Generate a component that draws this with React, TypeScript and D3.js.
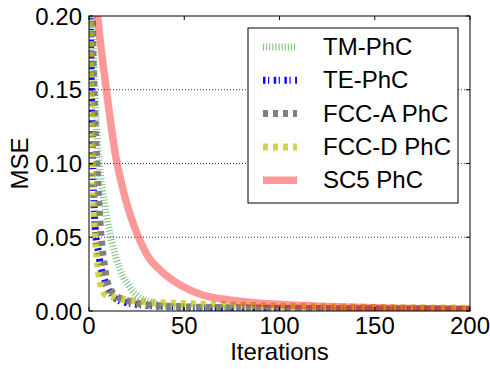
import React from "react";
import * as d3 from "d3";

const iterations = [0, 1, 2, 3, 4, 5, 6, 7, 8, 9, 10, 12, 14, 16, 18, 20, 22, 25, 28, 32, 36, 40, 45, 50, 60, 70, 80, 90, 100, 120, 140, 160, 180, 200];

const tmPhC = [0.3, 0.24, 0.19, 0.15, 0.125, 0.105, 0.092, 0.082, 0.074, 0.066, 0.059, 0.047, 0.037, 0.029, 0.023, 0.019, 0.015, 0.011, 0.008, 0.0058, 0.0045, 0.0035, 0.0028, 0.0022, 0.0016, 0.0012, 0.001, 0.0008, 0.0007, 0.0005, 0.0004, 0.0003, 0.00025, 0.0002];
const tePhC = [0.26, 0.17, 0.1, 0.062, 0.047, 0.04, 0.031, 0.026, 0.022, 0.018, 0.015, 0.011, 0.0085, 0.0068, 0.006, 0.0055, 0.005, 0.0045, 0.004, 0.0036, 0.0033, 0.003, 0.0028, 0.0026, 0.0023, 0.0021, 0.0019, 0.0017, 0.0016, 0.0014, 0.0013, 0.0012, 0.0011, 0.001];
const fccA = [0.4, 0.27, 0.18, 0.135, 0.104, 0.078, 0.056, 0.042, 0.032, 0.023, 0.018, 0.013, 0.0105, 0.0088, 0.0077, 0.007, 0.0062, 0.0053, 0.0046, 0.004, 0.0036, 0.0033, 0.003, 0.0028, 0.0025, 0.0023, 0.0021, 0.002, 0.0019, 0.0017, 0.0015, 0.0014, 0.0013, 0.0012];
const fccD = [0.25, 0.15, 0.09, 0.057, 0.038, 0.026, 0.019, 0.0145, 0.012, 0.011, 0.0105, 0.0097, 0.009, 0.0085, 0.008, 0.0076, 0.0072, 0.0068, 0.0064, 0.006, 0.0057, 0.0055, 0.0052, 0.005, 0.0046, 0.0042, 0.0039, 0.0036, 0.0033, 0.0029, 0.0026, 0.0023, 0.0021, 0.0019];
const sc5PhC = [0.263, 0.248, 0.233, 0.219, 0.206, 0.194, 0.182, 0.171, 0.161, 0.151, 0.141, 0.122, 0.105, 0.0925, 0.0816, 0.072, 0.0637, 0.0532, 0.0444, 0.035, 0.0294, 0.0247, 0.0199, 0.0161, 0.0107, 0.0081, 0.0064, 0.0053, 0.0045, 0.0033, 0.0025, 0.0019, 0.0015, 0.0012];

const seriesNames = ["TM-PhC", "TE-PhC", "FCC-A PhC", "FCC-D PhC", "SC5 PhC"];
const seriesValues = [tmPhC, tePhC, fccA, fccD, sc5PhC];
const xTicks = [0, 50, 100, 150, 200];
const yTicks = [0, 0.05, 0.1, 0.15, 0.2];

const styles = [
  { color: "#2e9e2e", opacity: 0.6, width: 7, dash: "1.1 2" },
  { color: "#0000ff", opacity: 0.95, width: 7, dash: "2.5 2.5 1.2 4.5" },
  { color: "#808080", opacity: 1, width: 7, dash: "5 5" },
  { color: "#bfbf00", opacity: 0.7, width: 7, dash: "5 5" },
  { color: "#ff0000", opacity: 0.4, width: 7.5, dash: null as string | null },
];

const W = 490, H = 369;
const L = 89, R = 470, T = 16, B = 311;
const FONT = "'Liberation Sans', Arial, sans-serif";
const FS = 24;

export default function App() {
  const x = d3.scaleLinear().domain([0, 200]).range([L, R]);
  const y = d3.scaleLinear().domain([0, 0.2]).range([B, T]);
  const line = d3
    .line<number>()
    .x((_, i) => x(iterations[i]))
    .y((d) => y(d))
    .curve(d3.curveMonotoneX);

  const tickLen = 4;
  const legX0 = 263, legX1 = 297, legText = 323, legBase = 55, legStep = 33.3;

  return (
    <svg width={W} height={H} style={{ position: "absolute", left: 0, top: 0, background: "#fff" }}>
      <defs>
        <clipPath id="plotClip">
          <rect x={L} y={T} width={R - L} height={B - T} />
        </clipPath>
      </defs>
      <rect x={0} y={0} width={W} height={H} fill="#fff" />
      {yTicks.slice(1, -1).map((t) => (
        <line key={"g" + t} x1={L} x2={R} y1={y(t)} y2={y(t)} stroke="#000" strokeWidth={0.8} strokeDasharray="1 2" />
      ))}
      <g clipPath="url(#plotClip)">
        {seriesValues.map((vals, i) => (
          <path
            key={seriesNames[i]}
            d={line(vals) || ""}
            fill="none"
            stroke={styles[i].color}
            strokeOpacity={styles[i].opacity}
            strokeWidth={styles[i].width}
            strokeDasharray={styles[i].dash || undefined}
          />
        ))}
      </g>
      <rect x={L} y={T} width={R - L} height={B - T} fill="none" stroke="#000" strokeWidth={1} />
      {xTicks.map((t) => (
        <g key={"x" + t}>
          <line x1={x(t)} x2={x(t)} y1={B} y2={B - tickLen} stroke="#000" />
          <line x1={x(t)} x2={x(t)} y1={T} y2={T + tickLen} stroke="#000" />
          <text x={x(t)} y={334} textAnchor="middle" fontFamily={FONT} fontSize={FS} fill="#000">
            {t}
          </text>
        </g>
      ))}
      {yTicks.map((t) => (
        <g key={"y" + t}>
          <line x1={L} x2={L + tickLen} y1={y(t)} y2={y(t)} stroke="#000" />
          <line x1={R} x2={R - tickLen} y1={y(t)} y2={y(t)} stroke="#000" />
          <text x={82} y={y(t) + 8.5} textAnchor="end" fontFamily={FONT} fontSize={FS} fill="#000">
            {t.toFixed(2)}
          </text>
        </g>
      ))}
      <text x={(L + R) / 2} y={360} textAnchor="middle" fontFamily={FONT} fontSize={FS} fill="#000">
        Iterations
      </text>
      <text
        transform={`translate(28,${(T + B) / 2}) rotate(-90)`}
        textAnchor="middle"
        fontFamily={FONT}
        fontSize={FS}
        fill="#000"
      >
        MSE
      </text>
      <rect x={248} y={28} width={210} height={175} fill="#fff" stroke="#000" strokeWidth={1} />
      {seriesNames.map((name, i) => {
        const base = legBase + i * legStep;
        const ly = base - 8;
        return (
          <g key={"leg" + name}>
            <line
              x1={legX0}
              x2={legX1}
              y1={ly}
              y2={ly}
              stroke={styles[i].color}
              strokeOpacity={styles[i].opacity}
              strokeWidth={styles[i].width}
              strokeDasharray={styles[i].dash || undefined}
            />
            <text x={legText} y={base} fontFamily={FONT} fontSize={FS} fill="#000">
              {name}
            </text>
          </g>
        );
      })}
    </svg>
  );
}
